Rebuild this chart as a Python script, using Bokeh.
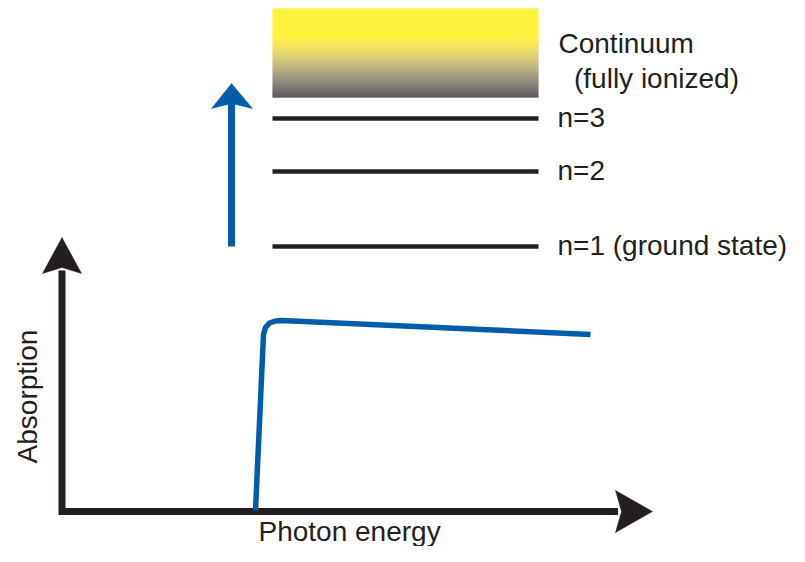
from bokeh.plotting import figure
from bokeh.models import Range1d
from bokeh.core.properties import value
from bokeh.embed import file_html
from bokeh.resources import INLINE
import math

# ---- data (diagram units: origin at the axes corner, 1 unit = 1 px) ----
level_names = ["n=1 (ground state)", "n=2", "n=3"]
level_energy = [265, 340, 393]
level_x_start = 210.5
level_x_end = 476.5

continuum_bottom = 414
continuum_top = 503
continuum_solid_from = 476
continuum_labels = ["Continuum", "(fully ionized)"]

photon_energy = [193.5, 201.5, 203.5, 207.5, 213.5, 219.5, 528.5]
absorption = [1, 177, 184, 188.5, 190.5, 191, 177]

# styles
DARK = "#231F20"
BLUE = "#005DAA"
FONT = value("Liberation Sans")
FS = "28px"

p = figure(width=789, height=546, output_backend="svg", toolbar_location=None,
           x_range=Range1d(-61.5, 727.5), y_range=Range1d(-35, 511),
           x_axis_location=None, y_axis_location=None, min_border=0)
p.grid.visible = False
p.outline_line_color = None
p.background_fill_color = "white"
p.border_fill_color = "white"

# ---- continuum gradient (yellow -> dark) ----
n = int(continuum_top - continuum_bottom)
bottoms, tops, colors = [], [], []
for i in range(n):
    y0 = continuum_bottom + i
    ymid = y0 + 0.5
    if ymid >= continuum_solid_from:
        t = 0.0
    else:
        t = (continuum_solid_from - ymid) / (continuum_solid_from - continuum_bottom)
    k = 0.87 * t ** 1.4
    r = int(round(255 * (1 - k)))
    g = int(round(237 * (1 - k)))
    b = int(round(255 * t * (1 - k)))
    bottoms.append(y0)
    tops.append(y0 + 1.02)
    colors.append("#%02x%02x%02x" % (r, g, b))
p.quad(left=level_x_start, right=level_x_end, bottom=bottoms, top=tops,
       fill_color=colors, line_color=None)

# ---- energy levels ----
p.segment(x0=[level_x_start] * 3, x1=[level_x_end] * 3, y0=level_energy, y1=level_energy,
          line_color=DARK, line_width=4.5, line_cap="butt")
p.text(x=[495.5] * 3, y=[e + 1 for e in level_energy], text=level_names,
       text_font=FONT, text_font_size=FS, text_color=DARK,
       text_align="left", text_baseline="alphabetic")
p.text(x=[496.5, 512], y=[468, 433], text=continuum_labels,
       text_font=FONT, text_font_size=FS, text_color=DARK,
       text_align="left", text_baseline="alphabetic")

# ---- blue excitation arrow ----
p.line(x=[169.5, 169.5], y=[265, 410], line_color=BLUE, line_width=7, line_cap="butt")
p.patch(x=[169.5, 149.5, 169.5, 190.5], y=[428, 403, 408, 403],
        fill_color=BLUE, line_color=BLUE, line_width=0.5)

# ---- axes with arrowheads ----
p.line(x=[0, 0, 556], y=[241, 0, 0], line_color=DARK, line_width=7,
       line_join="miter", line_cap="butt")
p.patch(x=[0, -19.5, 0, 19.5], y=[274, 238, 244, 238],
        fill_color=DARK, line_color=DARK, line_width=0.5)
p.patch(x=[590.5, 553.5, 559.5, 553.5], y=[0, 21, 0, -21],
        fill_color=DARK, line_color=DARK, line_width=0.5)

# ---- absorption curve ----
p.line(x=photon_energy, y=absorption, line_color=BLUE, line_width=5.5,
       line_join="round", line_cap="butt")

# ---- axis labels ----
p.text(x=[196.5], y=[-20], text=["Photon energy"], text_font=FONT, text_font_size=FS,
       text_color=DARK, text_align="left", text_baseline="alphabetic")
p.text(x=[-34.5], y=[115], text=["Absorption"], angle=math.pi / 2,
       text_font=FONT, text_font_size=FS, text_color=DARK,
       text_align="center", text_baseline="alphabetic")

open("out.html", "w").write(file_html(p, INLINE))
